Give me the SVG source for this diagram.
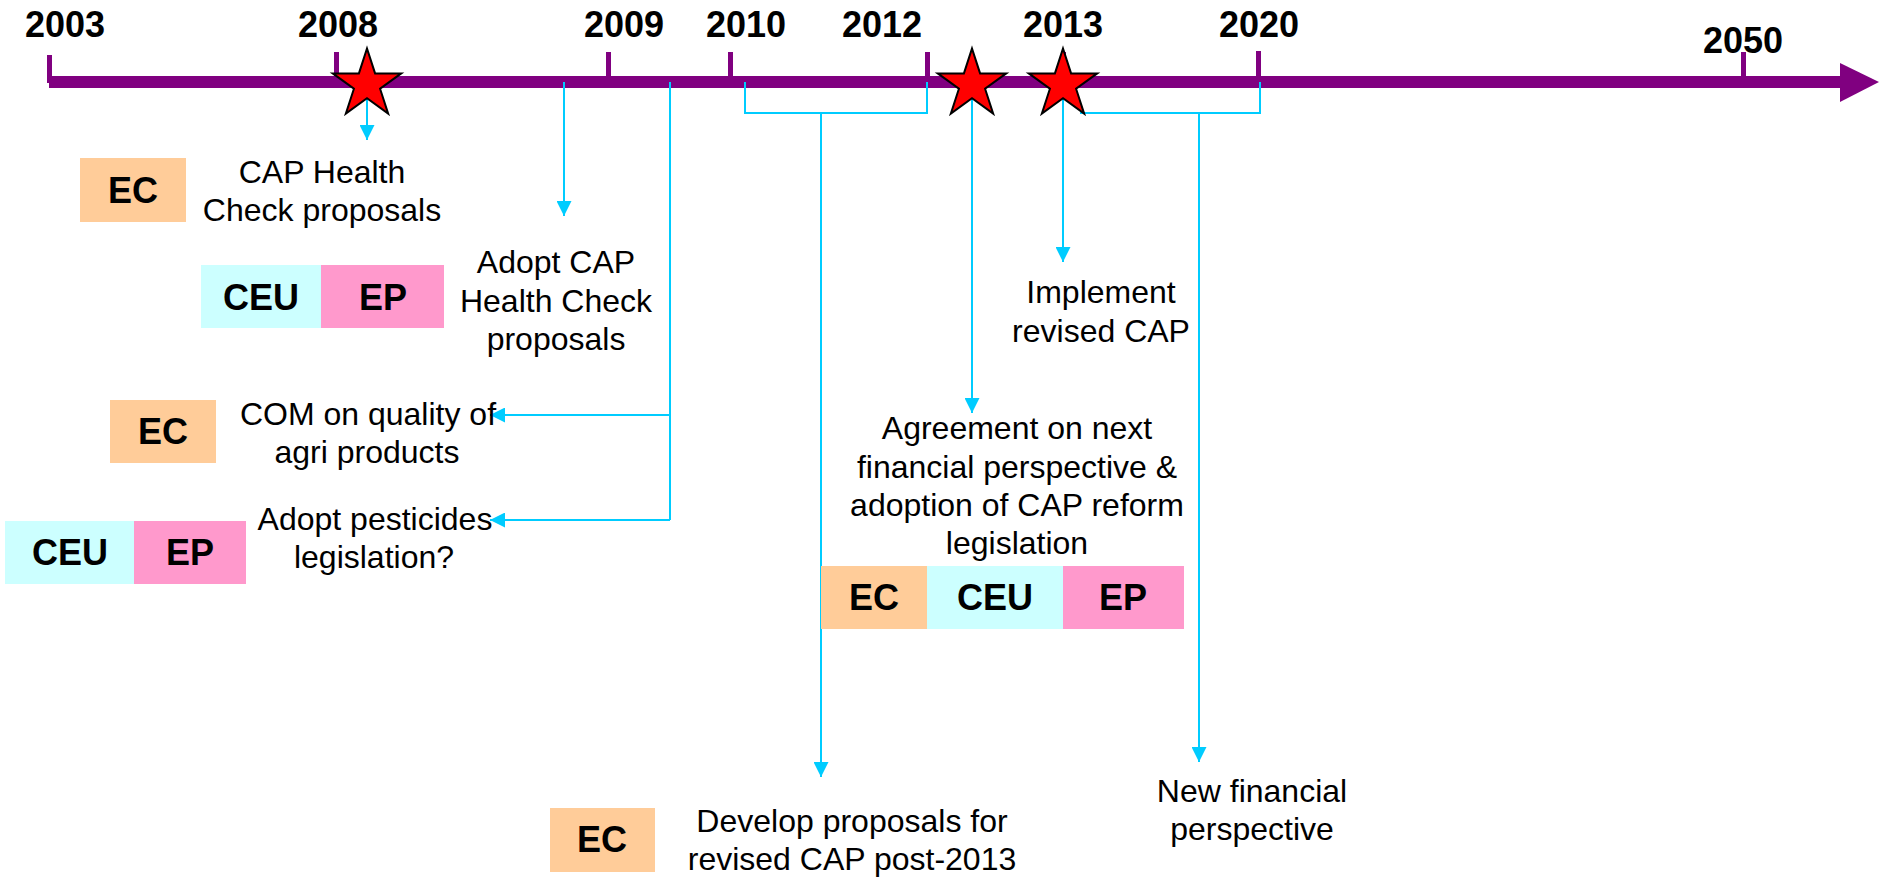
<svg xmlns="http://www.w3.org/2000/svg" width="1879" height="878" viewBox="0 0 1879 878">
<style>
.yr{font-family:"Liberation Sans",Arial,sans-serif;font-size:36px;font-weight:bold;fill:#000;text-anchor:middle}
.bx{font-family:"Liberation Sans",Arial,sans-serif;font-size:36px;font-weight:bold;fill:#000;text-anchor:middle}
.lb{font-family:"Liberation Sans",Arial,sans-serif;font-size:32px;fill:#000;text-anchor:middle}
.tick{fill:#800080}
.con{fill:none;stroke:#00CCFF;stroke-width:2}
.arr{marker-end:url(#ah)}
.ec{fill:#FFCC99}
.ceu{fill:#CCFFFF}
.ep{fill:#FF99CC}
.star{fill:#FF0000;stroke:#000;stroke-width:2;stroke-linejoin:miter}
</style>
<defs>
<marker id="ah" markerUnits="userSpaceOnUse" markerWidth="15" markerHeight="15" refX="15" refY="7.5" orient="auto">
<path d="M0,0 L15,7.5 L0,15 Z" fill="#00CCFF"/>
</marker>
<path id="starShape" d="M0,-36 L8.08,-11.12 L34.24,-11.12 L13.08,4.25 L21.16,29.12 L0,13.75 L-21.16,29.12 L-13.08,4.25 L-34.24,-11.12 L-8.08,-11.12 Z"/>
</defs>
<rect width="1879" height="878" fill="#fff"/>
<g id="timeline">
<rect x="49" y="76" width="1792" height="12" fill="#800080"/>
<polygon points="1840,63 1879,82 1840,102" fill="#800080"/>
<rect class="tick" x="47" y="55" width="5" height="28"/>
<rect class="tick" x="334" y="52" width="5" height="30"/>
<rect class="tick" x="606" y="52" width="5" height="30"/>
<rect class="tick" x="728" y="52" width="5" height="30"/>
<rect class="tick" x="925" y="52" width="5" height="30"/>
<rect class="tick" x="1061" y="52" width="5" height="30"/>
<rect class="tick" x="1256" y="51" width="5" height="31"/>
<rect class="tick" x="1741" y="52" width="5" height="30"/>
<text class="yr" x="65" y="37">2003</text>
<text class="yr" x="338" y="37">2008</text>
<text class="yr" x="624" y="37">2009</text>
<text class="yr" x="746" y="37">2010</text>
<text class="yr" x="882" y="37">2012</text>
<text class="yr" x="1063" y="37">2013</text>
<text class="yr" x="1259" y="37">2020</text>
<text class="yr" x="1743" y="53">2050</text>
</g>
<g id="connectors">
<path class="con arr" d="M367,84 V140"/>
<path class="con arr" d="M564,82 V216"/>
<path class="con" d="M670,82 V520"/>
<path class="con arr" d="M670,415 H490"/>
<path class="con arr" d="M670,520 H490"/>
<path class="con" d="M745,82 V113 H927 V82"/>
<path class="con arr" d="M821,113 V777"/>
<path class="con arr" d="M972,84 V413"/>
<path class="con arr" d="M1063,84 V262"/>
<path class="con" d="M1080,113 H1260 V82"/>
<path class="con arr" d="M1199,113 V762"/>
</g>
<g id="stars">
<use href="#starShape" class="star" transform="translate(367,84.5)"/>
<use href="#starShape" class="star" transform="translate(972,84.5)"/>
<use href="#starShape" class="star" transform="translate(1063,84.5)"/>
</g>
<g id="node-health-check-proposals">
<rect class="ec" x="80" y="158" width="106" height="64"/>
<text class="bx" x="133" y="203">EC</text>
<text class="lb" x="322" y="183">CAP Health</text>
<text class="lb" x="322" y="221">Check proposals</text>
</g>
<g id="node-adopt-health-check">
<rect class="ceu" x="201" y="265" width="120" height="63"/>
<rect class="ep" x="321" y="265" width="123" height="63"/>
<text class="bx" x="261" y="310">CEU</text>
<text class="bx" x="383" y="310">EP</text>
<text class="lb" x="556" y="273">Adopt CAP</text>
<text class="lb" x="556" y="312">Health Check</text>
<text class="lb" x="556" y="350">proposals</text>
</g>
<g id="node-com-quality">
<rect class="ec" x="110" y="400" width="106" height="63"/>
<text class="bx" x="163" y="444">EC</text>
<text class="lb" x="368" y="425">COM on quality of</text>
<text class="lb" x="367" y="463">agri products</text>
</g>
<g id="node-pesticides">
<rect class="ceu" x="5" y="521" width="129" height="63"/>
<rect class="ep" x="134" y="521" width="112" height="63"/>
<text class="bx" x="70" y="565">CEU</text>
<text class="bx" x="190" y="565">EP</text>
<text class="lb" x="375" y="530">Adopt pesticides</text>
<text class="lb" x="374" y="568">legislation?</text>
</g>
<g id="node-implement">
<text class="lb" x="1101" y="303">Implement</text>
<text class="lb" x="1101" y="342">revised CAP</text>
</g>
<g id="node-agreement">
<text class="lb" x="1017" y="439">Agreement on next</text>
<text class="lb" x="1017" y="478">financial perspective &amp;</text>
<text class="lb" x="1017" y="516">adoption of CAP reform</text>
<text class="lb" x="1017" y="554">legislation</text>
<rect class="ec" x="821" y="566" width="106" height="63"/>
<rect class="ceu" x="927" y="566" width="136" height="63"/>
<rect class="ep" x="1063" y="566" width="121" height="63"/>
<text class="bx" x="874" y="610">EC</text>
<text class="bx" x="995" y="610">CEU</text>
<text class="bx" x="1123" y="610">EP</text>
</g>
<g id="node-develop-proposals">
<rect class="ec" x="550" y="808" width="105" height="64"/>
<text class="bx" x="602" y="852">EC</text>
<text class="lb" x="852" y="832">Develop proposals for</text>
<text class="lb" x="852" y="870">revised CAP post-2013</text>
</g>
<g id="node-new-financial">
<text class="lb" x="1252" y="802">New financial</text>
<text class="lb" x="1252" y="840">perspective</text>
</g>
</svg>
